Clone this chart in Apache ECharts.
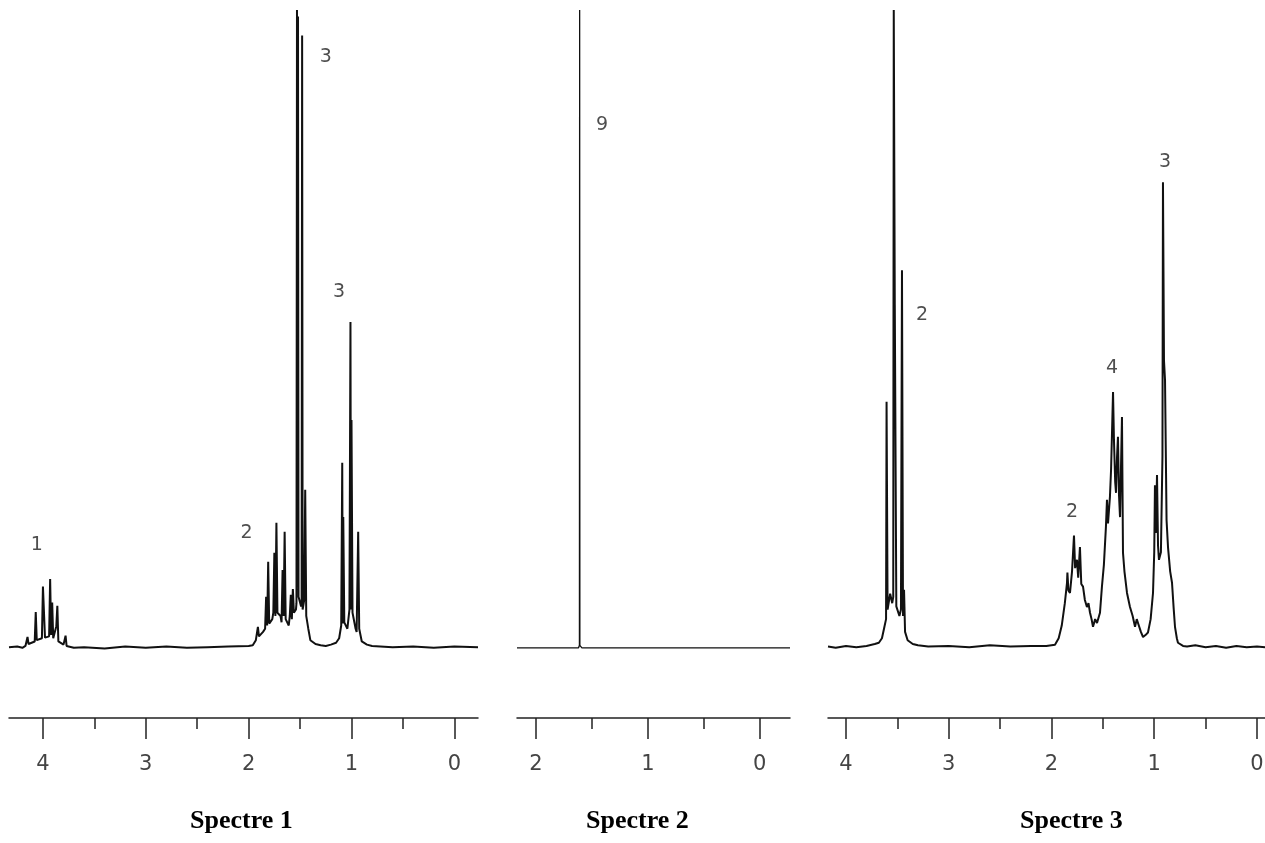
<!DOCTYPE html>
<html>
<head>
<meta charset="utf-8">
<script src="https://cdn.jsdelivr.net/npm/echarts@6/dist/echarts.min.js"></script>
<style>
  html, body { margin: 0; padding: 0; background: #fff; }
  #chart { width: 1265px; height: 843px; }
</style>
</head>
<body>
<div id="chart"></div>
<script>
// chemical shift (ppm), relative intensity
const spectrum1 = [
  [4.33, 0.1], [4.25, 0.2], [4.20, 0.0], [4.17, 0.3],
  [4.16, 0.5], [4.15, 1.7], [4.14, 0.6], [4.08, 1.0], [4.07, 5.6], [4.06, 1.2],
  [4.01, 1.5], [4.00, 9.6], [3.99, 9.7], [3.98, 1.6], [3.94, 1.8], [3.93, 10.8],
  [3.92, 2.0], [3.91, 7.1], [3.90, 1.5], [3.87, 3.4], [3.86, 6.6], [3.85, 1.0],
  [3.80, 0.5], [3.78, 1.9], [3.77, 0.3], [3.70, 0.0],
  [3.60, 0.1], [3.40, -0.1], [3.20, 0.2], [3.00, 0.0], [2.80, 0.2], [2.60, 0.0],
  [2.40, 0.1], [2.20, 0.2], [2.00, 0.3],
  [1.96, 0.4], [1.93, 1.2], [1.91, 3.3], [1.90, 1.8], [1.86, 2.5], [1.84, 3.0],
  [1.83, 8.0], [1.82, 3.5], [1.81, 13.5], [1.80, 3.8], [1.77, 4.5], [1.76, 5.5],
  [1.75, 14.9], [1.74, 5.0], [1.73, 19.6], [1.72, 5.5], [1.69, 5.0], [1.68, 4.0],
  [1.67, 12.2], [1.66, 5.0], [1.65, 18.2], [1.64, 4.5], [1.61, 3.5], [1.60, 5.0],
  [1.59, 8.3], [1.58, 4.5], [1.57, 9.2], [1.56, 5.5], [1.54, 6.0], [1.535, 7.0],
  [1.53, 100], [1.525, 40], [1.52, 99], [1.515, 8.0], [1.49, 6.5], [1.485, 7.0],
  [1.48, 96], [1.475, 6.0], [1.46, 7.5], [1.45, 24.8], [1.44, 5.0], [1.42, 3.0],
  [1.40, 1.2], [1.35, 0.6], [1.30, 0.4], [1.25, 0.3], [1.20, 0.5], [1.15, 0.8],
  [1.12, 1.5], [1.10, 3.5], [1.09, 29.0], [1.085, 3.8], [1.08, 20.5], [1.07, 4.0],
  [1.04, 3.0], [1.03, 4.5], [1.02, 6.0], [1.01, 51.1], [1.005, 6.0], [1.00, 35.7],
  [0.99, 5.5], [0.96, 3.0], [0.95, 2.5], [0.935, 18.2], [0.925, 3.0], [0.90, 1.0],
  [0.85, 0.5], [0.80, 0.3], [0.60, 0.1], [0.40, 0.2], [0.20, 0.0], [0.00, 0.2],
  [-0.23, 0.1]
]
const spectrum2 = [
  [2.17, 0.0], [1.80, 0.0], [1.62, 0.0], [1.612, 0.4], [1.61, 100], [1.608, 0.4],
  [1.59, 0.0], [1.00, 0.0], [-0.27, 0.0]
]
const spectrum3 = [
  [4.175, 0.2], [4.10, 0.0], [4.00, 0.3], [3.90, 0.1], [3.80, 0.3], [3.72, 0.6],
  [3.68, 0.8], [3.65, 1.5], [3.63, 3.0], [3.61, 4.5], [3.605, 38.6], [3.595, 6.0],
  [3.57, 8.5], [3.55, 7.0], [3.54, 8.0], [3.535, 100], [3.525, 53.8], [3.51, 6.5],
  [3.48, 5.0], [3.465, 6.0], [3.455, 59.2], [3.445, 5.0], [3.435, 9.1], [3.425, 2.5],
  [3.40, 1.2], [3.35, 0.6], [3.30, 0.4], [3.20, 0.2], [3.00, 0.3], [2.80, 0.1],
  [2.60, 0.4], [2.40, 0.2], [2.20, 0.3], [2.05, 0.3],
  [1.966, 0.5], [1.93, 1.5], [1.90, 3.5], [1.87, 7.0], [1.849, 10.2], [1.845, 11.8],
  [1.835, 9.0], [1.820, 8.6], [1.80, 12.0], [1.781, 17.6], [1.77, 12.5], [1.752, 13.8],
  [1.74, 11.0], [1.723, 15.8], [1.71, 10.0], [1.693, 9.6], [1.675, 7.5], [1.655, 6.4],
  [1.64, 7.0], [1.625, 5.5], [1.61, 4.5], [1.596, 3.3], [1.575, 4.5], [1.557, 3.9],
  [1.54, 4.0], [1.528, 5.5], [1.509, 9.6], [1.49, 13.0], [1.47, 19.0], [1.46, 23.2],
  [1.45, 19.5], [1.431, 23.7], [1.42, 28.0], [1.401, 40.1], [1.392, 32.6], [1.38, 26.0],
  [1.372, 24.3], [1.362, 30.0], [1.353, 33.1], [1.343, 24.0], [1.333, 20.5], [1.314, 36.2],
  [1.304, 14.9], [1.29, 12.0], [1.265, 8.6], [1.236, 6.4], [1.21, 5.0], [1.187, 3.3],
  [1.17, 4.5], [1.158, 3.9], [1.13, 2.5], [1.109, 1.7], [1.085, 2.0], [1.061, 2.4],
  [1.035, 4.5], [1.012, 8.6], [1.00, 15.0], [0.993, 25.5], [0.985, 18.0], [0.973, 27.1],
  [0.963, 16.0], [0.954, 13.8], [0.935, 15.0], [0.92, 30.0], [0.915, 73.0], [0.905, 45.0],
  [0.895, 42.0], [0.88, 20.0], [0.866, 15.8], [0.845, 12.0], [0.827, 10.2], [0.81, 6.0],
  [0.798, 3.3], [0.78, 1.5], [0.769, 0.8], [0.72, 0.3], [0.681, 0.2], [0.60, 0.4],
  [0.50, 0.1], [0.40, 0.3], [0.30, 0.0], [0.20, 0.3], [0.10, 0.1], [0.00, 0.2],
  [-0.078, 0.1]
]

// integration labels: shift, height, text
const labels1 = [[4.06, 16.1, "1"], [2.02, 18.0, "2"], [1.25, 92.6, "3"], [1.12, 55.8, "3"]]
const labels2 = [[1.41, 82.0, "9"]]
const labels3 = [[3.26, 52.2, "2"], [1.80, 21.3, "2"], [1.41, 43.9, "4"], [0.895, 76.2, "3"]]

const ticks1 = [0, 1, 2, 3, 4]
const minorTicks1 = [0.5, 1.5, 2.5, 3.5]
const ticks2 = [0, 1, 2]
const minorTicks2 = [0.5, 1.5]
const ticks3 = [0, 1, 2, 3, 4]
const minorTicks3 = [0.5, 1.5, 2.5, 3.5]

const titles = ["Spectre 1", "Spectre 2", "Spectre 3"]

const panels = [
  { left: 9, width: 469, min: -0.23, max: 4.33, data: spectrum1, labels: labels1, ticks: ticks1, minor: minorTicks1, lw: 2 },
  { left: 517, width: 273, min: -0.27, max: 2.17, data: spectrum2, labels: labels2, ticks: ticks2, minor: minorTicks2, lw: 1.3 },
  { left: 828, width: 437, min: -0.078, max: 4.175, data: spectrum3, labels: labels3, ticks: ticks3, minor: minorTicks3, lw: 2 },
]
const titleLeft = [190, 586, 1020]

const chart = echarts.init(document.getElementById("chart"))

const grid = []
const xAxis = []
const yAxis = []
const series = []

panels.forEach((p, i) => {
  // main grid with spectrum and major ticks
  grid.push({ left: p.left, width: p.width, top: 10, bottom: 125, containLabel: false, outerBoundsMode: "none" })
  // overlay grid for the short half-unit ticks
  grid.push({ left: p.left, width: p.width, top: 10, bottom: 125, containLabel: false, outerBoundsMode: "none" })

  xAxis.push({
    type: "value",
    gridIndex: 2 * i,
    inverse: true,
    min: p.min,
    max: p.max,
    splitLine: { show: false },
    axisLine: { onZero: false, lineStyle: { color: "#222", width: 1.5 } },
    axisTick: { customValues: p.ticks, length: 21, lineStyle: { color: "#222", width: 1.5 } },
    axisLabel: {
      customValues: p.ticks,
      margin: 36,
      fontSize: 21,
      fontFamily: "DejaVu Sans",
      color: "#444",
    },
  })
  xAxis.push({
    type: "value",
    gridIndex: 2 * i + 1,
    inverse: true,
    min: p.min,
    max: p.max,
    splitLine: { show: false },
    axisLine: { show: false, onZero: false },
    axisTick: { customValues: p.minor, length: 11, lineStyle: { color: "#222", width: 1.5 } },
    axisLabel: { show: false },
  })
  for (let k = 0; k < 2; k++) {
    yAxis.push({
      type: "value",
      gridIndex: 2 * i + k,
      min: -11,
      max: 100,
      show: false,
    })
  }

  series.push({
    type: "line",
    xAxisIndex: 2 * i,
    yAxisIndex: 2 * i,
    data: p.data,
    symbol: "none",
    lineStyle: { color: "#111", width: p.lw },
    clip: true,
  })
  series.push({
    type: "scatter",
    xAxisIndex: 2 * i,
    yAxisIndex: 2 * i,
    symbolSize: 0,
    data: p.labels.map((d) => ({ value: [d[0], d[1]], name: d[2] })),
    label: {
      show: true,
      position: "inside",
      formatter: (q) => q.name,
      fontSize: 19,
      fontFamily: "DejaVu Sans",
      color: "#222",
    },
  })
})

const option = {
  animation: false,
  backgroundColor: "#fff",
  title: titles.map((t, i) => ({
    text: t,
    left: titleLeft[i],
    top: 808,
    padding: 0,
    textStyle: {
      fontFamily: "Liberation Serif",
      fontWeight: "bold",
      fontSize: 26,
      color: "#000",
    },
  })),
  grid,
  xAxis,
  yAxis,
  series,
}

chart.setOption(option)
</script>
</body>
</html>
